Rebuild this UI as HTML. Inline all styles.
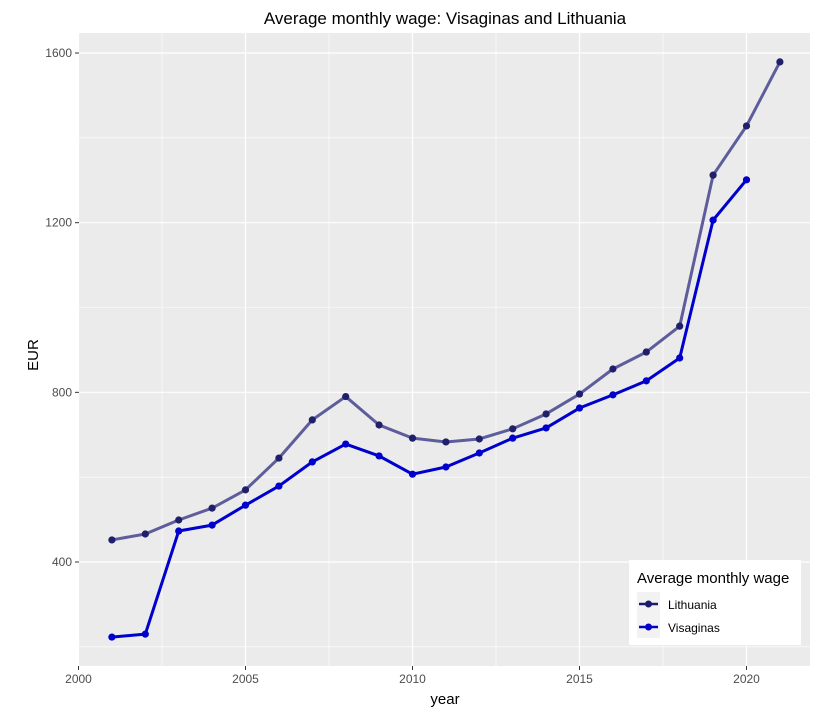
<!DOCTYPE html>
<html><head><meta charset="utf-8"><style>
body{margin:0;background:#fff}
svg text{font-family:"Liberation Sans",Arial,sans-serif}
</style></head><body>
<svg id="chart" width="818" height="714" xmlns="http://www.w3.org/2000/svg">
<rect x="79" y="33" width="731" height="633" fill="#ebebeb"/>
<g id="grid"></g><g id="axes"></g><g id="series"></g>
<text x="445" y="24" text-anchor="middle" font-size="17" fill="#000">Average monthly wage: Visaginas and Lithuania</text>
<text x="445" y="704" text-anchor="middle" font-size="15" fill="#000">year</text>
<text transform="translate(38,355) rotate(-90)" text-anchor="middle" font-size="15" fill="#000">EUR</text>
<g>
<rect x="629" y="560" width="172" height="85" fill="#fff"/>
<text x="637" y="583" font-size="15" fill="#000">Average monthly wage</text>
<rect x="637" y="592" width="23" height="46" fill="#f2f2f2"/>
<g><line x1="639" x2="658" y1="604" y2="604" stroke="#1a1a6e" stroke-width="2.5"/><circle cx="648.5" cy="604" r="3.5" fill="#1a1a6e"/><text x="668" y="609" font-size="12" fill="#000">Lithuania</text></g>
<g><line x1="639" x2="658" y1="627" y2="627" stroke="#0000cd" stroke-width="2.5"/><circle cx="648.5" cy="627" r="3.5" fill="#0000cd"/><text x="668" y="632" font-size="12" fill="#000">Visaginas</text></g>
</g>
</svg>
<script>
const years=[2001,2002,2003,2004,2005,2006,2007,2008,2009,2010,2011,2012,2013,2014,2015,2016,2017,2018,2019,2020,2021];
const lithuania=[452,466,499,527,570,645,735,790,723,692,683,690,714,749,796,855,895,956,1312,1428,1579];
const visaginas=[223,230,473,487,534,579,636,678,650,607,624,657,692,716,763,794,827,881,1206,1301];
const xTicks=[2000,2005,2010,2015,2020];
const yTicks=[400,800,1200,1600];
const ns="http://www.w3.org/2000/svg";
const X=v=>78.5+(v-2000)*33.4;
const Y=v=>562-(v-400)*0.42417;
const L=79,R=810,T=33,B=666;
function mk(tag,attrs,parent){const e=document.createElementNS(ns,tag);for(const k in attrs)e.setAttribute(k,attrs[k]);parent.appendChild(e);return e;}
const grid=document.getElementById('grid'),axes=document.getElementById('axes'),series=document.getElementById('series');
for(let i=0;i<xTicks.length;i++){
  const t=xTicks[i];
  if(i<xTicks.length-1){const m=t+2.5;const g=mk('line',{x1:X(m),x2:X(m),y1:T,y2:B,stroke:'#fff','stroke-width':0.6},grid);}
  const g=mk('line',{x1:X(t),x2:X(t),y1:T,y2:B,stroke:'#fff','stroke-width':1.2},grid);
  
  
  mk('line',{x1:X(t),x2:X(t),y1:B,y2:B+4,stroke:'#333'},axes);
  const tx=mk('text',{x:X(t),y:B+17,'text-anchor':'middle','font-size':12,fill:'#4d4d4d'},axes);tx.textContent=t;
  
  
}
{const m=2022.5;}
for(const v of [200,600,1000,1400]){const g=mk('line',{x1:L,x2:R,y1:Y(v),y2:Y(v),stroke:'#fff','stroke-width':0.6},grid);}
for(const t of yTicks){
  const g=mk('line',{x1:L,x2:R,y1:Y(t),y2:Y(t),stroke:'#fff','stroke-width':1.2},grid);
  
  
  mk('line',{x1:L-4,x2:L,y1:Y(t),y2:Y(t),stroke:'#333'},axes);
  const tx=mk('text',{x:L-7,y:Y(t)+4,'text-anchor':'end','font-size':12,fill:'#4d4d4d'},axes);tx.textContent=t;
  
  
}
function draw(vals,lineCol,ptCol,name){
  const pts=vals.map((v,i)=>X(years[i])+','+Y(v)).join(' ');
  const pl=mk('polyline',{points:pts,fill:'none',stroke:lineCol,'stroke-width':3,'stroke-linejoin':'round'},series);
  
  
  vals.forEach((v,i)=>{const c=mk('circle',{cx:X(years[i]),cy:Y(v),r:3.6,fill:ptCol},series);
    
    });
}
draw(lithuania,'#5d5d9c','#1f1f6b','lithuania');
draw(visaginas,'#0000cd','#0000cd','visaginas');
</script>
</body></html>
